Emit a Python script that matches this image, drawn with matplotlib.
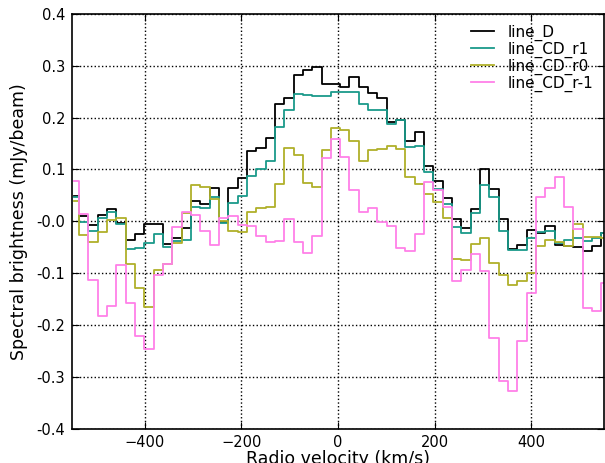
import numpy as np
import matplotlib
matplotlib.use("Agg")
import matplotlib.pyplot as plt

# channel grid (km/s): centre of first channel and channel width
v_first = -545.35
dv = 19.3

line_D = [0.049, 0.011, -0.008, 0.013, 0.024, -0.003, -0.037, -0.024, -0.005, -0.005,
          -0.043, -0.033, -0.014, 0.040, 0.033, 0.064, -0.001, 0.064, 0.083, 0.135,
          0.142, 0.160, 0.226, 0.237, 0.282, 0.291, 0.298, 0.264, 0.264, 0.260,
          0.278, 0.259, 0.247, 0.237, 0.191, 0.195, 0.154, 0.172, 0.107, 0.077,
          0.044, 0.004, -0.014, 0.024, 0.101, 0.063, 0.005, -0.053, -0.046, -0.017,
          -0.022, -0.010, -0.045, -0.047, -0.050, -0.058, -0.047, -0.023]

line_CD_r1 = [0.046, -0.002, -0.018, 0.007, 0.018, -0.005, -0.053, -0.051, -0.042, -0.025,
              -0.049, -0.038, -0.036, 0.028, 0.026, 0.046, -0.003, 0.036, 0.048, 0.088,
              0.100, 0.116, 0.181, 0.214, 0.245, 0.243, 0.241, 0.242, 0.249, 0.249,
              0.249, 0.226, 0.214, 0.214, 0.188, 0.195, 0.143, 0.145, 0.096, 0.063,
              0.034, -0.011, -0.022, 0.016, 0.069, 0.047, -0.019, -0.055, -0.055, -0.033,
              -0.021, -0.019, -0.042, -0.036, -0.033, -0.038, -0.033, -0.022]

line_CD_r0 = [0.040, -0.027, -0.040, -0.020, 0.003, 0.007, -0.082, -0.128, -0.165, -0.094,
              -0.082, -0.042, 0.015, 0.069, 0.067, 0.043, 0.001, -0.019, -0.021, 0.018,
              0.025, 0.028, 0.072, 0.141, 0.128, 0.074, 0.067, 0.137, 0.180, 0.176,
              0.154, 0.117, 0.137, 0.140, 0.145, 0.139, 0.086, 0.071, 0.052, 0.037,
              0.006, -0.073, -0.075, -0.044, -0.033, -0.080, -0.104, -0.123, -0.116, -0.100,
              -0.048, -0.036, -0.040, -0.047, -0.005, -0.030, -0.031, -0.033]

line_CD_rm1 = [0.078, 0.014, -0.113, -0.182, -0.164, -0.085, -0.158, -0.221, -0.246, -0.104,
               -0.082, -0.012, 0.017, 0.013, -0.018, -0.046, 0.006, 0.010, -0.008, -0.010,
               -0.028, -0.040, -0.038, 0.005, -0.040, -0.061, -0.028, 0.123, 0.159, 0.124,
               0.060, 0.017, 0.026, -0.001, -0.010, -0.052, -0.057, -0.025, 0.076, 0.061,
               0.027, -0.115, -0.094, -0.064, -0.096, -0.226, -0.308, -0.328, -0.231, -0.139,
               0.046, 0.065, 0.086, 0.027, -0.015, -0.167, -0.173, -0.120]

labels = ["line_D", "line_CD_r1", "line_CD_r0", "line_CD_r-1"]
colors = ["black", "#1a9a8a", "#b0b02a", "#ff80e8"]

velocity = v_first + dv * np.arange(len(line_D))

fig = plt.figure(figsize=(6.05, 4.63), dpi=100)
ax = fig.add_axes([0.119, 0.0745, 0.879, 0.8953])

for series, lab, col in zip([line_D, line_CD_r1, line_CD_r0, line_CD_rm1], labels, colors):
    ax.step(velocity, series, where="mid", color=col, lw=1.3, label=lab)

ax.set_xlim(-550, 550)
ax.set_ylim(-0.4, 0.4)
ax.set_xticks([-400, -200, 0, 200, 400])
ax.set_yticks(np.arange(-0.4, 0.41, 0.1))
ax.yaxis.set_major_formatter(matplotlib.ticker.FormatStrFormatter("%.1f"))
ax.tick_params(direction="in", top=True, right=True, length=5, labelsize=10.5, pad=5)
ax.grid(True, linestyle=":", color="black", linewidth=1)
for s in ax.spines.values():
    s.set_linewidth(1.2)

ax.set_xlabel("Radio velocity (km/s)", fontsize=12.5, labelpad=0)
ax.set_ylabel("Spectral brightness (mJy/beam)", fontsize=12.5, labelpad=6)

ax.legend(loc="upper right", frameon=False, fontsize=11, handlelength=1.5,
          handletextpad=0.9, labelspacing=0.05, borderaxespad=0.3)

fig.savefig("out.png", dpi=100)
